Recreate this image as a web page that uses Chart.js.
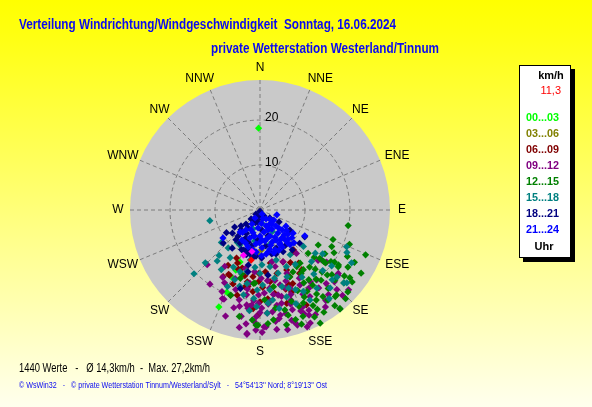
<!DOCTYPE html>
<html>
<head>
<meta charset="utf-8">
<script src="https://cdn.jsdelivr.net/npm/chart.js@4.4.1/dist/chart.umd.min.js"></script>
<style>
  html, body { margin: 0; padding: 0; background: #fff; }
  canvas { display: block; }
</style>
</head>
<body>
<canvas id="rose" width="592" height="407"></canvas>
<script>
/* Windrichtung / Windgeschwindigkeit, 16.06.2024 */

// compass + axis
const compass = ['N', 'NNE', 'NE', 'ENE', 'E', 'ESE', 'SE', 'SSE', 'S', 'SSW', 'SW', 'WSW', 'W', 'WNW', 'NW', 'NNW'];
const rings = [10, 20];
const speedMax = 28.9;

// legend + stats
const hourGroups = ['00...03', '03...06', '06...09', '09...12', '12...15', '15...18', '18...21', '21...24'];
const groupColors = ['#00ff00', '#808000', '#800000', '#800080', '#008000', '#008080', '#000080', '#0000ff'];
const countValues = 1440;
const meanSpeed = '14,3';
const maxSpeed = '27,2';
const lastSpeed = '11,3';

// [direction in degrees, speed in km/h]
const g0003 = [[359, 18.2], [202, 14.4], [203, 16.2], [202, 19.7], [203, 23.4], [201, 12.4]];
const g0306 = [[188, 9.2], [192, 8.6], [183, 9.8], [196, 10.1], [178, 8.9]];
const g0609 = [[209, 16.9], [206, 15.9], [203, 12.8], [206, 11.9], [190, 16.2], [191, 17.4], [181, 15.9], [180, 20.4],
  [181, 23.3], [186, 21.6], [175, 13.8], [172, 16.1], [186, 14.9], [185, 18.2], [205, 16.0], [189, 17.2], [181, 14.1],
  [156, 12.6], [141, 11.9], [145, 16.2], [154, 23.5], [164, 21.6], [169, 12.0], [165, 14.6], [156, 17.9], [140, 11.6],
  [144, 14.6], [148, 16.6], [156, 16.2], [159, 17.8], [159, 19.5], [156, 14.6], [197, 13.5], [210, 14.2], [170, 18.8],
  [195, 19.6], [200, 17.5], [193, 15.0], [178, 17.2], [184, 22.0], [162, 18.5], [150, 13.5], [175, 19.8], [200, 14.0]];
const g0912 = [[212, 14.8], [209, 17.1], [203, 21.4], [189, 19.1], [187, 22.0], [186, 27.6], [178, 26.0], [182, 26.7],
  [172, 25.0], [166, 23.7], [167, 21.3], [161, 21.2], [174, 20.5], [179, 21.8], [188, 16.4], [179, 15.2], [173, 17.5],
  [165, 17.2], [157, 15.3], [165, 13.0], [185, 13.8], [194, 13.4], [200, 16.2], [181, 18.9], [168, 19.3], [159, 18.6],
  [173, 22.8], [185, 21.2], [206, 18.0], [224, 16.9], [214, 19.9], [202, 21.4], [186, 27.8], [177, 26.0], [163, 26.0],
  [156, 27.5], [152, 26.3], [141, 20.0], [136, 24.6], [129, 22.4], [131, 17.1], [128, 18.8], [156, 12.6], [167, 11.8],
  [188, 21.3], [192, 21.9], [182, 23.7], [169, 23.8], [156, 23.5], [144, 24.9], [136, 26.4], [132, 26.5], [140, 12.6],
  [129, 17.6], [130, 22.6], [158, 28.0], [162, 26.9], [162, 23.3], [157, 25.0], [143, 21.7], [141, 24.2], [150, 22.2],
  [152, 18.9], [170, 24.5], [176, 23.0], [183, 24.8], [160, 20.0], [148, 20.5], [164, 25.5], [190, 24.0], [195, 22.5],
  [153, 21.0], [171, 19.0], [175, 21.0], [180, 22.8], [184, 20.2], [170, 21.5], [166, 19.8], [162, 22.0], [158, 24.2],
  [154, 24.8], [172, 26.8], [179, 27.2], [187, 25.5], [193, 20.5], [197, 18.5], [189, 17.8], [177, 18.5], [168, 16.0],
  [160, 16.8], [150, 17.5], [145, 19.5], [138, 22.0], [134, 23.0], [146, 26.0], [167, 27.3], [190, 26.5], [205, 20.0],
  [198, 24.8], [181, 20.8], [174, 15.8], [162, 18.2], [155, 25.8]];
const g1215 = [[112, 17.5], [113, 25.5], [122, 26.5], [133, 26.7], [141, 28.3], [125, 20.2], [126, 21.5], [129, 18.7],
  [129, 17.1], [132, 21.5], [139, 20.7], [145, 20.4], [139, 23.1], [138, 25.4], [143, 25.1], [148, 23.6], [153, 21.7],
  [158, 23.1], [153, 26.7], [162, 25.6], [145, 18.9], [147, 16.8], [139, 16.8], [147, 15.0], [121, 15.1], [124, 17.4],
  [131, 24.7], [165, 24.2], [123, 23.3], [100, 19.9], [152, 28.5], [141, 28.2], [191, 24.1], [181, 25.6], [173, 24.6],
  [166, 22.9], [177, 20.0], [170, 17.3], [149, 18.9], [132, 14.4], [199, 20.0], [196, 15.8], [184, 16.3], [150, 25.5],
  [144, 16.4], [156, 16.3], [129, 18.2], [125, 21.3], [139, 25.5], [199, 20.1], [184, 24.5], [182, 25.6], [196, 14.8],
  [185, 16.4], [135, 19.5], [128, 23.8], [118, 22.0], [146, 22.5], [155, 19.8], [160, 27.0], [142, 27.0], [120, 19.0],
  [127, 25.0], [133, 22.8], [137, 18.0], [141, 19.8], [144, 23.8], [148, 26.8], [151, 24.3], [155, 22.8], [158, 25.5],
  [131, 16.0], [126, 19.5], [119, 24.0], [136, 27.4], [143, 14.8], [152, 15.6], [161, 21.5], [167, 26.2], [171, 22.1],
  [176, 25.3], [134, 20.8], [128, 26.0], [150, 20.9], [117, 17.9], [111, 21.3]];
const g1518 = [[258, 11.4], [230, 11.2], [220, 11.0], [215, 8.8], [222, 13.6], [220, 14.8], [226, 16.9], [226, 20.4],
  [213, 15.8], [200, 16.5], [203, 18.5], [113, 20.9], [116, 21.5], [128, 15.6], [130, 12.6], [135, 16.2], [147, 14.4],
  [155, 13.9], [164, 14.6], [148, 17.6], [134, 22.3], [131, 24.7], [130, 25.2], [138, 23.3], [144, 21.5], [164, 17.7],
  [173, 17.9], [178, 16.7], [182, 17.8], [190, 16.6], [191, 19.2], [182, 21.5], [172, 20.2], [163, 20.2], [159, 22.3],
  [151, 22.9], [169, 22.3], [176, 23.0], [192, 14.0], [198, 14.4], [180, 14.1], [170, 12.8], [191, 11.3], [178, 12.2],
  [162, 11.7], [146, 12.0], [134, 19.4], [131, 22.7], [156, 19.4], [184, 19.7], [180, 0.5], [172, 3.0], [200, 4.5],
  [150, 5.5], [190, 7.0], [165, 8.0], [210, 9.0], [140, 18.6], [125, 17.0], [152, 20.5], [160, 18.5], [168, 15.5],
  [175, 20.8], [186, 22.5], [195, 17.5], [205, 14.0], [212, 12.5], [142, 25.0], [128, 20.2], [158, 16.0], [185, 12.8],
  [120, 23.5]];
const g1821 = [[180, 0.3], [225, 1.3], [225, 2.8], [225, 4.4], [224, 6.1], [220, 7.6], [211, 8.6], [202, 9.6], [193, 10.0],
  [178, 10.7], [165, 10.1], [151, 10.6], [146, 1.6], [214, 4.8], [193, 5.9], [207, 7.0], [193, 8.2], [184, 6.7],
  [129, 2.8], [122, 5.0], [124, 8.0], [130, 11.5], [121, 11.6], [194, 18.0], [191, 14.0], [173, 14.6], [197, 10.4],
  [192, 12.5], [228, 11.0], [219, 8.5], [171, 8.1], [157, 9.2], [145, 9.7], [190, 2.7], [216, 6.0], [174, 4.5],
  [141, 11.4], [216, 10.5], [185, 10.3], [163, 6.0], [230, 5.5], [230, 8.0], [205, 9.7], [198, 9.3], [236, 9.0],
  [210, 6.0], [200, 3.0], [185, 1.5], [170, 1.8], [215, 2.5], [236, 6.8], [200, 7.6], [188, 10.6], [160, 10.4]];
const g2124 = [[153, 1.0], [146, 2.4], [145, 3.8], [135, 5.0], [132, 6.6], [131, 8.2], [131, 9.4], [140, 9.6], [149, 9.6],
  [159, 9.5], [169, 9.5], [177, 8.4], [187, 7.6], [200, 6.6], [215, 5.4], [210, 3.6], [186, 4.0], [170, 5.0], [159, 6.2],
  [152, 7.6], [142, 7.9], [142, 6.5], [148, 5.0], [159, 3.8], [180, 5.8], [171, 7.0], [163, 8.2], [185, 9.4], [198, 8.6],
  [211, 7.8], [140, 8.7], [149, 8.6], [122, 6.8], [126, 3.8], [212, 2.1], [222, 6.6], [233, 10.3], [120, 11.5],
  [178, 10.2], [166, 9.0], [134, 10.5], [136, 7.7], [134, 5.8], [158, 4.8], [176, 6.7], [197, 5.3], [151, 6.9],
  [139, 10.2], [106, 3.9], [159, 7.6], [150, 8.9], [162, 10.0], [172, 9.9], [145, 8.0], [137, 9.0], [128, 7.5],
  [125, 9.0], [155, 4.5], [165, 6.5], [181, 7.3], [192, 6.0], [204, 8.0], [218, 6.3], [174, 3.0], [140, 4.0],
  [133, 3.0], [160, 2.0], [205, 4.8], [190, 9.0], [155, 9.9]];
const extraPink = [[200, 10.7], [191, 9.4]];
const lastValue = [[190, 11.3]];

const groups = [g0003, g0306, g0609, g0912, g1215, g1518, g1821, g2124];

function toXY(list) {
  return list.map(([dir, spd]) => {
    const a = dir * Math.PI / 180;
    return { x: spd * Math.sin(a), y: spd * Math.cos(a) };
  });
}

const FONT = '"Liberation Sans", Arial, sans-serif';

const datasets = groups.map((g, i) => ({
  label: hourGroups[i],
  data: toXY(g),
  backgroundColor: groupColors[i],
  order: 20 - i,
}));
datasets.push({ label: 'pink', data: toXY(extraPink), backgroundColor: '#ff00ff', order: 2 });
datasets.push({ label: 'last', data: toXY(lastValue), backgroundColor: '#ff0000', order: 1 });

const rosePlugin = {
  id: 'rose',
  beforeDatasetsDraw(chart) {
    const ctx = chart.ctx;
    const xs = chart.scales.x, ys = chart.scales.y;
    const cx = xs.getPixelForValue(0), cy = ys.getPixelForValue(0);
    const R = xs.getPixelForValue(speedMax) - cx;
    ctx.save();
    // page background
    const grad = ctx.createLinearGradient(0, 0, 0, chart.height);
    grad.addColorStop(0, '#ffff00');
    grad.addColorStop(0.08, '#ffff10');
    grad.addColorStop(1, '#ffffee');
    ctx.fillStyle = grad;
    ctx.fillRect(0, 0, chart.width, chart.height);
    // disc
    ctx.fillStyle = '#c9c9c9';
    ctx.beginPath();
    ctx.arc(cx, cy, R, 0, Math.PI * 2);
    ctx.fill();
    // grid
    ctx.strokeStyle = '#7c7c7c';
    ctx.lineWidth = 1;
    ctx.setLineDash([4, 3]);
    rings.forEach((v) => {
      const r = xs.getPixelForValue(v) - cx;
      ctx.beginPath();
      ctx.arc(cx, cy, r, 0, Math.PI * 2);
      ctx.stroke();
    });
    compass.forEach((_, i) => {
      const a = i * Math.PI / 8;
      ctx.beginPath();
      ctx.moveTo(cx, cy);
      ctx.lineTo(cx + R * Math.sin(a), cy - R * Math.cos(a));
      ctx.stroke();
    });
    ctx.setLineDash([]);
    // labels, three-letter ones pushed sideways a little
    ctx.fillStyle = '#000';
    ctx.font = '12px ' + FONT;
    ctx.textAlign = 'center';
    ctx.textBaseline = 'middle';
    compass.forEach((name, i) => {
      const a = i * Math.PI / 8;
      const rl = R + 12;
      const sx = Math.sin(a);
      const push = i % 2 ? 6 * Math.sign(sx) : 0;
      ctx.fillText(name, cx + rl * sx + push, cy - rl * Math.cos(a));
    });
    ctx.textAlign = 'left';
    rings.forEach((v) => {
      const r = ys.getPixelForValue(v) - cy;
      ctx.fillText(String(v), cx + 5, cy + r - 2);
    });
    ctx.restore();
  },
  afterDraw(chart) {
    const ctx = chart.ctx;
    ctx.save();
    ctx.textBaseline = 'middle';
    ctx.textAlign = 'left';
    // titles
    ctx.fillStyle = '#0a0af0';
    ctx.font = 'bold 14px ' + FONT;
    ctx.fillText('Verteilung Windrichtung/Windgeschwindigkeit  Sonntag, 16.06.2024', 19, 25, 377);
    ctx.fillText('private Wetterstation Westerland/Tinnum', 211, 49, 228);
    // stats line
    ctx.fillStyle = '#000';
    ctx.font = '12px ' + FONT;
    ctx.fillText(countValues + ' Werte   -   \u00d8 ' + meanSpeed + 'km/h  -  Max. ' + maxSpeed + 'km/h', 19, 369, 191);
    ctx.fillStyle = '#0a0af0';
    ctx.font = '9px ' + FONT;
    ctx.fillText('\u00a9 WsWin32   -   \u00a9 private Wetterstation Tinnum/Westerland/Sylt   -   54\u00b054\'13\'\' Nord; 8\u00b019\'13\'\' Ost', 19, 386, 308);
    // legend box
    ctx.fillStyle = '#000';
    ctx.fillRect(523, 69, 52, 193);
    ctx.fillStyle = '#fff';
    ctx.fillRect(519, 65, 52, 193);
    ctx.strokeStyle = '#000';
    ctx.lineWidth = 1;
    ctx.strokeRect(519.5, 65.5, 51, 192);
    ctx.fillStyle = '#000';
    ctx.font = 'bold 11px ' + FONT;
    ctx.textAlign = 'center';
    ctx.fillText('km/h', 551, 76);
    ctx.fillStyle = '#ff0000';
    ctx.font = '11px ' + FONT;
    ctx.textAlign = 'right';
    ctx.fillText(lastSpeed, 561, 91);
    ctx.textAlign = 'left';
    ctx.font = 'bold 11px ' + FONT;
    hourGroups.forEach((h, i) => {
      ctx.fillStyle = groupColors[i];
      ctx.fillText(h, 526, 118 + i * 16, 33);
    });
    ctx.fillStyle = '#000';
    ctx.textAlign = 'center';
    ctx.fillText('Uhr', 544, 247);
    ctx.restore();
  },
};

new Chart(document.getElementById('rose'), {
  type: 'scatter',
  data: { datasets },
  options: {
    responsive: false,
    animation: false,
    devicePixelRatio: 1,
    layout: { padding: { left: 130, right: 202, top: 80, bottom: 67 } },
    elements: {
      point: { pointStyle: 'rectRot', radius: 3.6, hoverRadius: 3.6, borderWidth: 0 },
    },
    datasets: { scatter: { clip: false } },
    scales: {
      x: { type: 'linear', min: -speedMax, max: speedMax, display: false },
      y: { type: 'linear', min: -speedMax, max: speedMax, display: false },
    },
    plugins: { legend: { display: false }, tooltip: { enabled: false } },
  },
  plugins: [rosePlugin],
});
</script>
</body>
</html>
